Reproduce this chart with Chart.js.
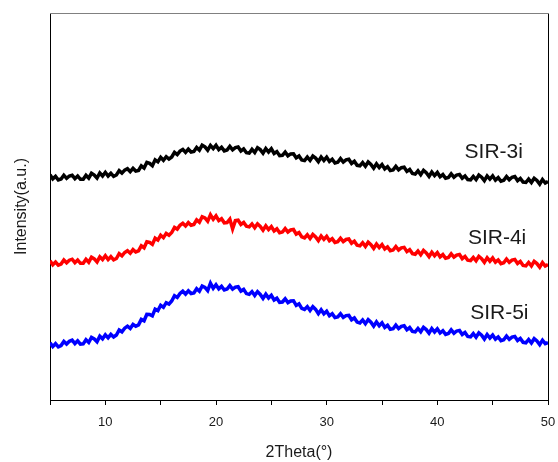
<!DOCTYPE html>
<html>
<head>
<meta charset="utf-8">
<script src="https://cdn.jsdelivr.net/npm/chart.js@4/dist/chart.umd.min.js"></script>
<style>
html,body{margin:0;padding:0;background:#fff;}
canvas{display:block;}
</style>
</head>
<body>
<canvas id="xrd" width="558" height="462"></canvas>
<script>
// 2theta sampling grid (degrees)
const thetaStart=5, thetaStep=0.25;

// intensity (a.u., curves already offset as in the stacked plot)
const sir3i=[
2252,2211,2236,2200, 2210,2248,2217,2240, 2248,2213,2240,2207, 2208,2247,2218,2267, 2250,2219,2270,2240,
2277,2240,2268,2237, 2250,2294,2269,2299, 2313,2284,2316,2289, 2296,2342,2320,2376, 2366,2343,2402,2382,
2427,2397,2433,2409, 2430,2477,2455,2489, 2506,2476,2508,2480, 2486,2526,2498,2548, 2532,2498,2546,2514,
2547,2504,2528,2491, 2500,2536,2502,2524, 2530,2490,2511,2473, 2468,2506,2475,2523, 2504,2468,2514,2480,
2512,2465,2484,2443, 2447,2479,2442,2461, 2463,2421,2440,2400, 2394,2429,2396,2440, 2419,2384,2430,2396,
2429,2385,2408,2370, 2378,2414,2380,2402, 2408,2366,2387,2347, 2342,2374,2338,2380, 2356,2318,2361,2325,
2355,2311,2333,2294, 2301,2336,2302,2323, 2328,2286,2305,2265, 2259,2291,2254,2296, 2272,2235,2279,2244,
2275,2232,2254,2217, 2225,2261,2228,2250, 2256,2217,2240,2204, 2201,2236,2204,2250, 2228,2193,2241,2209,
2241,2199,2224,2188, 2198,2235,2203,2227, 2234,2194,2216,2179, 2175,2209,2175,2218, 2196,2159,2205,2170,
2186];
const sir4i=[
1392,1353,1380,1348, 1360,1400,1372,1398, 1408,1373,1400,1367, 1368,1407,1378,1428, 1411,1381,1432,1404,
1442,1404,1433,1402, 1415,1463,1442,1475, 1493,1468,1504,1480, 1491,1541,1522,1582, 1576,1556,1618,1599,
1647,1623,1666,1648, 1675,1726,1709,1747, 1768,1740,1774,1748, 1756,1801,1778,1832, 1821,1788,1852,1807,
1842,1794,1813,1772, 1775,1809,1712,1794, 1798,1756,1776,1737, 1731,1761,1722,1762, 1736,1698,1741,1704,
1734,1690,1712,1673, 1680,1714,1680,1701, 1705,1659,1675,1631, 1621,1652,1615,1656, 1631,1594,1640,1606,
1637,1593,1614,1576, 1583,1618,1584,1605, 1610,1568,1588,1547, 1541,1573,1536,1578, 1554,1516,1560,1524,
1554,1510,1531,1493, 1500,1535,1500,1521, 1526,1484,1504,1464, 1458,1490,1453,1495, 1471,1434,1478,1443,
1474,1431,1454,1417, 1425,1461,1428,1449, 1455,1414,1436,1398, 1393,1426,1392,1436, 1413,1377,1423,1388,
1420,1378,1401,1364, 1373,1410,1377,1399, 1406,1365,1386,1346, 1341,1375,1341,1386, 1364,1328,1374,1340,
1355];
const sir5i=[
572,534,563,532, 545,586,559,587, 598,564,592,559, 561,602,575,626, 611,583,638,612,
652,621,656,630, 650,700,682,718, 738,716,756,737, 751,806,792,857, 856,841,908,894,
947,927,973,959, 990,1043,1026,1065, 1088,1059,1092,1064, 1071,1113,1088,1140, 1126,1094,1168,1116,
1152,1111,1136,1100, 1110,1144,1109,1129, 1133,1089,1106,1064, 1056,1084,1045,1084, 1056,1016,1058,1019,
1047,1000,1018,976, 980,1012,974,991, 993,946,962,917, 906,934,895,934, 906,863,902,862,
887,842,863,824, 830,862,826,844, 846,802,820,779, 771,801,763,804, 778,738,781,743,
772,726,747,707, 713,749,715,737, 743,702,724,686, 681,715,682,726, 704,668,714,680,
712,670,693,656, 665,701,668,690, 696,655,676,636, 631,664,628,671, 648,610,655,620,
650,608,631,594, 603,640,607,629, 636,595,616,577, 572,605,570,613, 590,553,598,563,
575];

const seriesNames=['SIR-3i','SIR-4i','SIR-5i'];
const seriesColors=['#000000','#ff0000','#0000ff'];
const xTicks=[10,20,30,40,50];
// where the curve names sit (2theta, intensity)
const nameTheta=[45.1,45.4,45.6];
const nameIntensity=[2480,1620,870];

const FONT='"Liberation Sans", Arial, sans-serif';
const toPoints=arr=>arr.map((v,i)=>({x:thetaStart+i*thetaStep,y:v}));

const frameAndNames={
    id:'frameAndNames',
    afterDraw(chart){
        const {ctx,chartArea:a,scales:{x,y}}=chart;
        ctx.save();
        ctx.lineWidth=1;
        ctx.strokeStyle='#000';
        ctx.beginPath();ctx.moveTo(a.right+0.5,a.top);ctx.lineTo(a.right+0.5,a.bottom);ctx.stroke();
        ctx.strokeStyle='#808080';
        ctx.beginPath();ctx.moveTo(a.left,a.top+0.5);ctx.lineTo(a.right+1,a.top+0.5);ctx.stroke();
        ctx.fillStyle='#1a1a1a';
        ctx.font='21px '+FONT;
        ctx.textAlign='center';
        ctx.textBaseline='middle';
        seriesNames.forEach((n,i)=>{
            ctx.fillText(n,x.getPixelForValue(nameTheta[i]),y.getPixelForValue(nameIntensity[i]));
        });
        ctx.restore();
    }
};

new Chart(document.getElementById('xrd'),{
    type:'line',
    data:{datasets:[sir3i,sir4i,sir5i].map((d,i)=>({
        label:seriesNames[i],
        data:toPoints(d),
        borderColor:seriesColors[i],
        borderWidth:3.5,
        pointRadius:0,
        tension:0,
        fill:false
    }))},
    options:{
        responsive:false,
        animation:false,
        devicePixelRatio:1,
        layout:{padding:{top:13,right:10,left:0,bottom:0}},
        plugins:{legend:{display:false},tooltip:{enabled:false}},
        scales:{
            x:{
                type:'linear',min:5,max:50,
                ticks:{
                    stepSize:5,autoSkip:false,maxRotation:0,padding:10,
                    color:'#1a1a1a',font:{family:FONT,size:13},
                    callback:v=>xTicks.includes(v)?String(v):''
                },
                grid:{drawOnChartArea:false,drawTicks:true,tickLength:5,color:'#000'},
                border:{color:'#000',width:1},
                title:{display:true,text:'2Theta(°)',color:'#1a1a1a',font:{family:FONT,size:16},padding:{top:0,bottom:0}},
                afterFit:s=>{s.height=62;s.paddingLeft=0;s.paddingRight=0;}
            },
            y:{
                min:0,max:3870,
                ticks:{display:false},
                grid:{drawOnChartArea:false,drawTicks:false,color:'#000'},
                border:{color:'#000',width:1},
                title:{display:true,text:'Intensity(a.u.)',color:'#1a1a1a',font:{family:FONT,size:16},padding:{top:12,bottom:0}},
                afterFit:s=>{s.width=50;}
            }
        }
    },
    plugins:[frameAndNames]
});
</script>
</body>
</html>
